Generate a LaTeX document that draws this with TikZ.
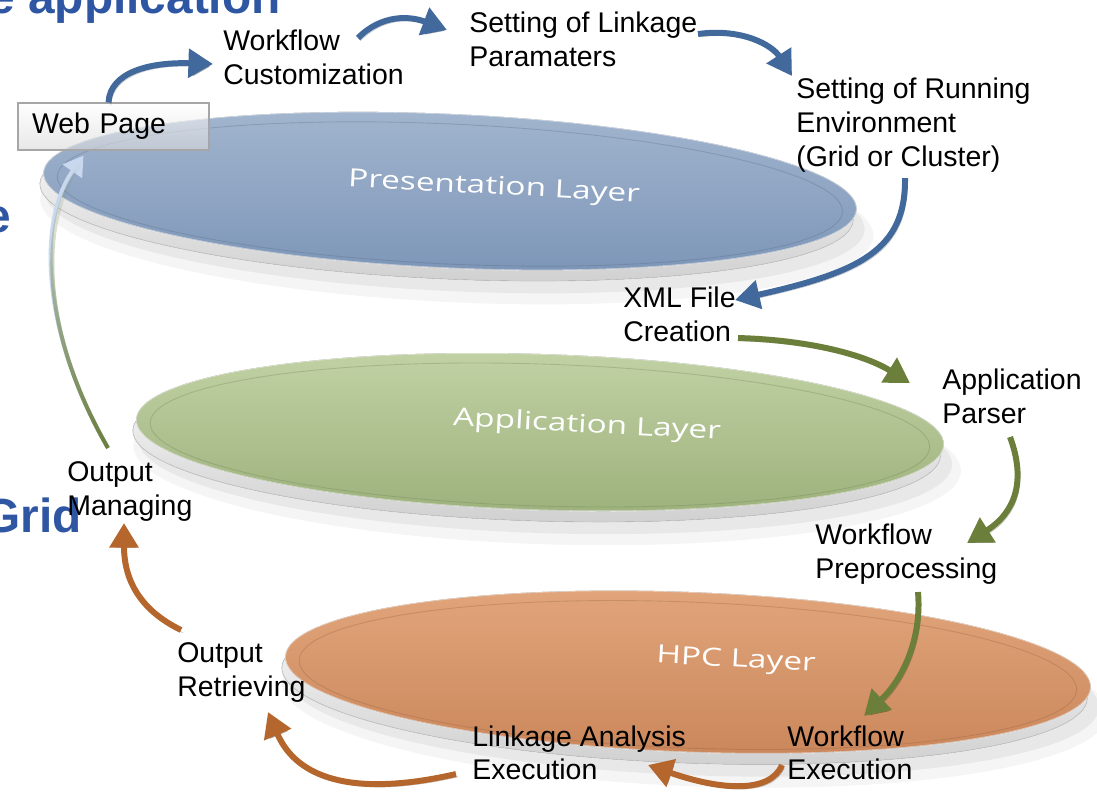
\documentclass[tikz,border=0pt]{standalone}
\usepackage{fontspec}
\setmainfont{Liberation Sans}
\newfontfamily\layerfont{Open Sans}
\usetikzlibrary{arrows.meta,calc,fadings}
\definecolor{arrblue}{HTML}{41699C}
\definecolor{arrgreen}{HTML}{6B7F3B}
\definecolor{arrorange}{HTML}{B4662C}
\definecolor{arrlight}{HTML}{C9D8EE}
\definecolor{titleblue}{HTML}{2F56A3}
\definecolor{bluetop}{HTML}{A3B6CF}
\definecolor{bluemid}{HTML}{8DA3C1}
\definecolor{bluebot}{HTML}{7C95B7}
\definecolor{greentop}{HTML}{C2D2A5}
\definecolor{greenmid}{HTML}{ADC18D}
\definecolor{greenbot}{HTML}{9CB17B}
\definecolor{orangetop}{HTML}{E2A67C}
\definecolor{orangemid}{HTML}{D69466}
\definecolor{orangebot}{HTML}{CA865A}
\newcommand\layerdisc[8]{%
  \begin{scope}[shift={(#1,#2)}, rotate=#5]
    \fill[black, opacity=0.04] (8,26) ellipse [x radius=#3+10, y radius=#4+8];
    \fill[black, opacity=0.05] (6,20) ellipse [x radius=#3+3, y radius=#4+3];
    \fill[top color=white, middle color=gray!10, bottom color=gray!38] (-3,11) ellipse [x radius=#3, y radius=#4];
    \draw[gray!45, line width=0.4pt] (-3,11) ellipse [x radius=#3, y radius=#4];
    \fill[top color=#6, middle color=#7, bottom color=#8] (0,0) ellipse [x radius=#3, y radius=#4];
    \draw[white, opacity=0.55, line width=0.6pt] (0,0) ellipse [x radius=#3, y radius=#4];
    \draw[#8!70!black, opacity=0.3, line width=0.5pt] (0,3) ellipse [x radius=#3-14, y radius=#4-7];
  \end{scope}}
\tikzset{
  lbl/.style={font=\fontsize{16.2}{19.3}\selectfont, align=left, inner sep=0pt, anchor=north west},
  layerlbl/.style={font=\layerfont\fontsize{19}{21}\selectfont, text=white, inner sep=0pt, rotate=-3, yscale=0.75},
  bgtitle/.style={font=\bfseries\fontsize{27.2}{30}\selectfont, text=titleblue, inner sep=0pt, anchor=base east},
  flowarrow/.style={line width=3.4pt, draw=#1, -{Triangle[length=14pt,width=16pt]},
    preaction={draw=black, opacity=0.22, transform canvas={shift={(1.3pt,-1.6pt)}}}},
  webbox/.style={font=\fontsize{16.2}{19.3}\selectfont, top color=white, bottom color=gray!30,
    draw=gray!70, line width=0.6pt, fill opacity=0.6, text opacity=1, align=left,
    text width=3.26cm, inner xsep=0.28cm, inner ysep=0pt, minimum height=0.94cm},
}
\begin{document}
\begin{tikzpicture}[x=0.02cm, y=-0.02cm]
\useasboundingbox (0,0) rectangle (1097,796);
\clip (0,0) rectangle (1097,796);
\fill[white] (0,0) rectangle (1097,796);
% remnants of slide text behind
\node[bgtitle] (t1) at (281,13) {e application};
\node[bgtitle] (t2) at (11,232) {e};
\node[bgtitle] (t3) at (82,532) {Grid};
% layers
\layerdisc{688}{672}{403}{80}{-2.2}{orangetop}{orangemid}{orangebot}
\layerdisc{540}{432}{404}{78}{-1.8}{greentop}{greenmid}{greenbot}
\layerdisc{450}{191}{407}{77}{-2.6}{bluetop}{bluemid}{bluebot}
\node[layerlbl] (pl) at (494,188) {Presentation Layer};
\node[layerlbl] (al) at (587,426) {Application Layer};
\node[layerlbl] (hl) at (736,661) {HPC Layer};
% step labels
\node[webbox] (wp) at (113.5,126.5) {Web Page};
\node[lbl] (wc) at (223,30) {Workflow\\Customization};
\node[lbl] (sl) at (469,12) {Setting of Linkage\\Paramaters};
\node[lbl] (sr) at (796,78) {Setting of Running\\Environment\\(Grid or Cluster)};
\node[lbl] (xml) at (623,287) {XML File\\Creation};
\node[lbl] (ap) at (942,369) {Application\\Parser};
\node[lbl] (wpp) at (815,524) {Workflow\\Preprocessing};
\node[lbl] (we) at (787,725) {Workflow\\Execution};
\node[lbl] (la) at (472,725) {Linkage Analysis\\Execution};
\node[lbl] (orr) at (177,642) {Output\\Retrieving};
\node[lbl] (om) at (67,461) {Output\\Managing};
% arrows
\draw[flowarrow=arrblue] ($(wp.north)+(-5,0)$) .. controls (110,72) and (150,62) .. ($(wc.north west)+(-10,34)$);
\draw[flowarrow=arrblue] ($(wc.north west)+(135,8)$) .. controls (382,14) and (410,16) .. ($(sl.north west)+(-22,18)$);
\draw[flowarrow=arrblue] ($(sl.north west)+(229,22)$) .. controls (742,28) and (772,45) .. ($(sr.north west)+(-4,-2)$);
\draw[flowarrow=arrblue] ($(sr.north west)+(109,100)$) .. controls (906,250) and (860,272) .. ($(xml.north west)+(112,13)$);
\draw[flowarrow=arrgreen] ($(xml.north west)+(115,51)$) .. controls (810,340) and (865,355) .. ($(ap.north west)+(-32,14)$);
\draw[flowarrow=arrgreen] ($(ap.north west)+(68,68)$) .. controls (1026,480) and (1016,512) .. ($(wpp.north west)+(152,19)$);
\draw[flowarrow=arrgreen] ($(wpp.north west)+(103,68)$) .. controls (922,640) and (902,680) .. ($(we.north west)+(77,-9)$);
\draw[flowarrow=arrorange] ($(we.north west)+(-5,40)$) .. controls (770,794) and (720,790) .. ($(la.north west)+(176,40)$);
\draw[flowarrow=arrorange] ($(la.north west)+(-16,49)$) .. controls (360,796) and (298,782) .. ($(orr.north west)+(91,70)$);
\draw[flowarrow=arrorange] ($(orr.north west)+(4,-12)$) .. controls (140,610) and (124,580) .. ($(om.north west)+(57,62)$);
\draw[line width=2.3pt, draw=arrlight, -{Triangle[length=11pt,width=13pt]}]
  ($(om.north west)+(41,-13)$) .. controls (40,330) and (38,220) .. ($(wp.south west)+(66,5)$);
\draw[line width=2.3pt, draw=arrgreen, path fading=north]
  ($(om.north west)+(41,-13)$) .. controls (40,330) and (38,220) .. ($(wp.south west)+(64,12)$);
\end{tikzpicture}
\end{document}
